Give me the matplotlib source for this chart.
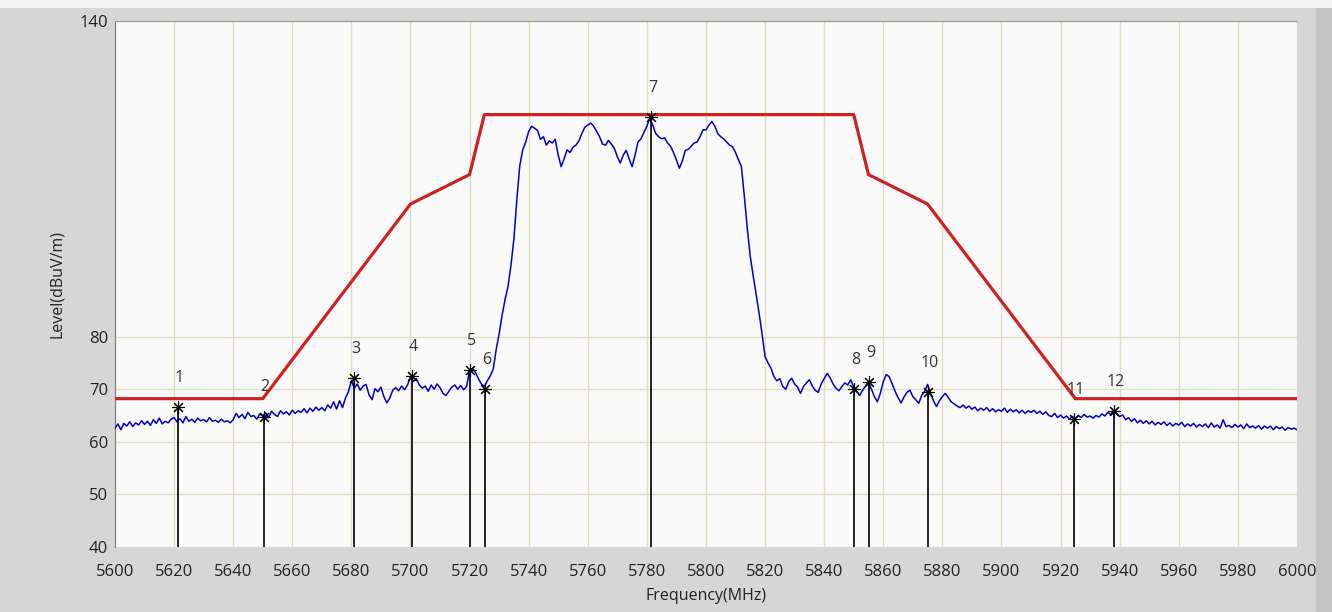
import numpy as np
import matplotlib
matplotlib.use("Agg")
import matplotlib.pyplot as plt
from matplotlib.patches import Rectangle

plt.rcParams['font.family'] = ['Open Sans', 'DejaVu Sans']

# measured trace, 1 MHz steps from 5600 to 6000 MHz
freq = np.arange(5600, 6001, 1)
level = [
    62.6, 63.4, 62.3, 63.5, 63.0, 63.8, 62.9, 63.6, 63.2, 64.0,
    63.3, 63.9, 63.1, 64.2, 63.5, 64.5, 63.4, 63.9, 63.6, 64.3,
    64.6, 63.8, 64.4, 63.6, 64.8, 63.9, 64.3, 63.7, 64.5, 64.0,
    64.2, 63.8, 64.6, 63.9, 64.1, 63.7, 64.3, 63.8, 64.0, 63.6,
    64.2, 65.4, 64.6, 65.2, 64.4, 65.6, 64.8, 65.0, 64.3, 65.3,
    64.9, 65.5, 64.6, 65.8, 65.2, 64.8, 65.9, 65.3, 65.7, 65.1,
    66.0, 65.4, 65.9, 65.6, 66.3, 65.5, 66.4, 65.8, 66.6, 66.0,
    66.5, 65.9, 67.0, 66.4, 67.6, 66.2, 67.8, 66.5, 68.3, 69.5,
    71.6, 70.2, 71.0, 69.8, 70.6, 70.9, 68.9, 68.0, 70.1, 69.5,
    70.4, 68.6, 67.4, 68.3, 69.8, 70.3, 69.7, 70.6, 69.9, 70.8,
    72.3, 71.5, 72.0, 70.8, 70.2, 70.6, 69.6, 70.8, 70.0, 71.0,
    70.3, 69.2, 68.8, 69.6, 70.4, 70.8, 70.0, 70.7, 69.9, 70.5,
    73.6, 74.0, 73.2, 72.0, 71.0, 70.5, 71.6, 72.5, 73.8, 77.5,
    80.5, 84.0, 87.0, 89.5, 93.5, 98.5, 106.0, 112.5, 115.5, 117.0,
    119.0, 120.0, 119.6, 119.2, 117.5, 118.0, 116.4, 117.2, 116.8, 117.5,
    114.5, 112.3, 113.8, 115.5, 115.0, 116.0, 116.4, 117.2, 118.6, 119.8,
    120.2, 120.6, 120.0, 119.0, 118.0, 116.6, 116.4, 117.3, 116.6, 115.8,
    114.2, 113.0, 114.5, 115.4, 113.8, 112.3, 114.5, 117.0, 117.6, 118.8,
    120.0, 121.5, 120.2, 118.6, 118.0, 117.6, 117.8, 116.8, 116.2, 115.0,
    113.6, 112.0, 113.4, 115.4, 115.6, 116.2, 116.8, 117.0, 118.0, 119.3,
    119.3, 120.2, 120.9, 120.0, 118.6, 118.0, 117.6, 117.0, 116.4, 116.1,
    115.0, 113.6, 112.3, 106.6, 100.5, 95.2, 91.5, 88.0, 84.4, 80.5,
    76.2, 75.0, 74.0, 72.4, 71.6, 72.0, 70.5, 70.0, 71.4, 72.1,
    71.0, 70.4, 69.2, 70.5, 71.2, 71.8, 70.6, 69.8, 69.4, 71.0,
    72.0, 73.0, 72.2, 71.0, 70.2, 69.7, 70.5, 71.2, 70.8, 71.8,
    70.4, 69.6, 68.8, 69.8, 70.6, 71.5, 70.0, 68.6, 67.6, 69.2,
    71.4, 72.8, 72.4, 71.0, 69.6, 68.4, 67.4, 68.5, 69.4, 69.8,
    68.6, 68.0, 67.3, 68.8, 69.6, 70.9, 69.2, 67.8, 66.7, 67.8,
    68.6, 69.2, 68.4, 67.6, 67.2, 66.8, 66.5, 67.0, 66.4, 66.8,
    66.2, 66.6, 65.9, 66.4, 66.0, 66.5, 65.8, 66.3, 65.7, 66.1,
    65.8, 66.4, 65.6, 66.2, 65.7, 66.1, 65.5, 66.0, 65.4, 65.9,
    65.6, 66.0, 65.4, 65.8, 65.2, 65.7, 65.0, 64.8, 65.4, 64.6,
    65.1, 64.5, 64.9, 64.3, 64.8, 64.4, 65.0, 64.6, 65.2, 64.7,
    64.9, 64.5, 65.0, 64.7, 65.3, 64.9, 65.6, 65.2, 65.9, 65.3,
    64.8, 65.1, 64.2, 64.6, 63.9, 64.4, 63.6, 64.1, 63.5, 64.0,
    63.4, 63.9, 63.2, 63.7, 63.3, 63.8, 63.1, 63.6, 63.0, 63.5,
    63.2, 63.7, 62.9, 63.4, 63.0, 63.5, 62.8, 63.3, 62.9, 63.4,
    62.7, 63.6, 62.8, 63.2, 62.6, 64.2, 62.9, 63.1, 62.7, 63.3,
    62.8, 63.2, 62.5, 63.4, 62.7, 63.0, 62.6, 63.1, 62.4, 63.0,
    62.6, 63.0, 62.3, 62.9, 62.5, 62.8, 62.2, 62.7, 62.4, 62.6,
    62.3,
]

# emission mask (limit line)
limit_freq = [5600, 5650, 5700, 5720, 5725, 5850, 5855, 5875, 5925, 6000]
limit_level = [68.2, 68.2, 105.2, 110.8, 122.2, 122.2, 110.8, 105.2, 68.2, 68.2]

# markers
mk_freq = [5621.3, 5650.4, 5680.9, 5700.5, 5720.1, 5725.2, 5781.4,
           5850.1, 5855.2, 5875.1, 5924.5, 5938.1]
mk_level = [66.6, 64.8, 72.1, 72.5, 73.6, 70.0, 121.7,
            70.0, 71.4, 69.5, 64.3, 65.9]
mk_names = [str(i) for i in range(1, 13)]

xticks = list(range(5600, 6001, 20))
yticks = [40, 50, 60, 70, 80, 140]

fig = plt.figure(figsize=(13.32, 6.12), dpi=100, facecolor='#d6d6d6')
fig.patches.append(Rectangle((0, 0.987), 1, 0.013, transform=fig.transFigure,
                             facecolor='#f4f4f4', edgecolor='none', zorder=0))
fig.patches.append(Rectangle((0.988, 0), 0.012, 0.987, transform=fig.transFigure,
                             facecolor='#c4c4c4', edgecolor='none', zorder=0))
ax = fig.add_axes([0.0863, 0.1062, 0.8874, 0.8595])
ax.set_facecolor('#fafafa')

ax.set_xlim(5600, 6000)
ax.set_ylim(40, 140)
ax.set_xticks(xticks)
ax.set_yticks(yticks)
ax.tick_params(length=0, labelsize=12, colors='#222222')
ax.tick_params(axis='x', pad=12)
ax.tick_params(axis='y', pad=5)
ax.grid(True, color='#e2dcc6', linewidth=1.0)
ax.set_axisbelow(True)
for side in ['bottom', 'right']:
    ax.spines[side].set_visible(False)
ax.spines['left'].set_color('#7a7a7a')
ax.spines['top'].set_color('#9a9a9a')

ax.plot(limit_freq, limit_level, color='#d02020', linewidth=2.3, zorder=3)
ax.plot(freq, level, color='#0000c8', linewidth=1.1, zorder=4)

ax.vlines(mk_freq, 40, mk_level, color='black', linewidth=1.2, zorder=5)
ax.plot(mk_freq, mk_level, linestyle='none', marker=(8, 2, 0), markersize=9,
        markeredgewidth=0.8, color='black', zorder=6)
for f, v, n in zip(mk_freq, mk_level, mk_names):
    ax.annotate(n, (f, v), xytext=(1, 21), textcoords='offset points',
                ha='center', va='center', fontsize=11.5, color='#333333', zorder=7)

ax.set_xlabel('Frequency(MHz)', fontsize=11.5, color='#222222', labelpad=6)
ax.set_ylabel('Level(dBuV/m)', fontsize=11.5, color='#222222', labelpad=10)

fig.savefig('out.png', dpi=100, facecolor=fig.get_facecolor())
